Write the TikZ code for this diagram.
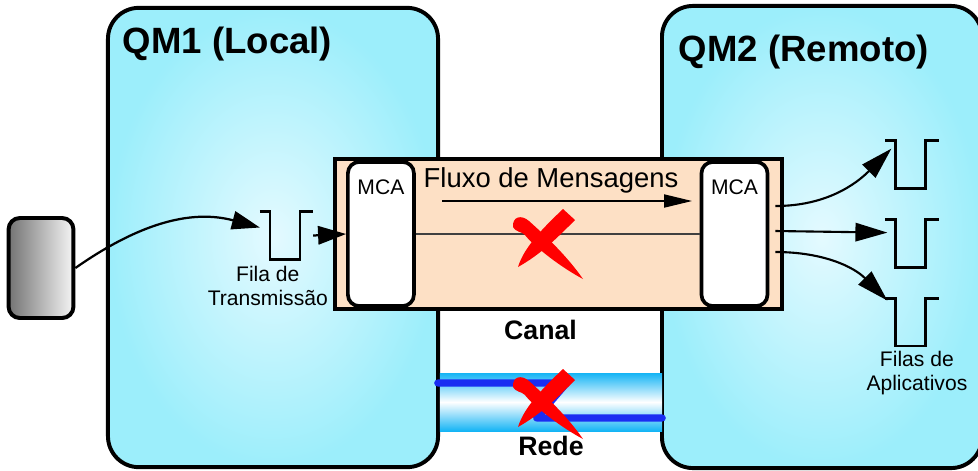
\documentclass[tikz,border=0pt]{standalone}
\usepackage{fontspec}
\setmainfont{Liberation Sans}
\usetikzlibrary{positioning,arrows.meta,calc}
\definecolor{ciano}{HTML}{9CEEFB}
\definecolor{cianoclaro}{HTML}{E4FAFF}
\definecolor{pessego}{HTML}{FDE0C5}
\definecolor{tubo}{HTML}{14B4F5}
\definecolor{azulrede}{HTML}{1A2DF2}
\definecolor{vermelho}{HTML}{FF0000}

\tikzset{
  xvermelho/.pic={
    \fill[vermelho] (18,-36) -- (30,-25) .. controls (11,-6) and (-4,9) .. (-27,22)
      .. controls (-21,2) and (-1,-18) .. cycle;
    \fill[vermelho] (-32,-18) .. controls (-33,-28) and (-24,-31) .. (-16,-24)
      .. controls (-5,-14) and (20,8) .. (38,34)
      .. controls (10,19) and (-15,-3) .. (-20,-10)
      .. controls (-24,-14) and (-28,-12) .. cycle;
  }
}

\begin{document}
\begin{tikzpicture}[x=0.025cm, y=-0.025cm, font=\fontsize{15}{17}\selectfont,
    qm/.style={draw, line width=2.8pt, rounded corners=22pt, inner sep=0pt,
               inner color=cianoclaro, outer color=ciano},
    mca/.style={draw, fill=white, line width=2.6pt, rounded corners=8pt, inner sep=0pt,
                minimum width=1.65cm, minimum height=3.6cm},
    fila/.style={inner sep=0pt, minimum width=0.74cm, minimum height=1.18cm},
    seta/.style={-{Triangle[length=7mm,width=4.6mm]}, line width=1.6pt},
    seta2/.style={-{Triangle[length=8mm,width=4.6mm]}, line width=1.5pt},
    titulo/.style={font=\bfseries\fontsize{26}{30}\selectfont, anchor=base west},
    rotulo/.style={font=\bfseries\fontsize{19}{22}\selectfont}]
  \useasboundingbox (0,0) rectangle (978,470);

  % gerenciadores de filas
  \node[qm, minimum width=8.25cm, minimum height=11.48cm] (qm1) at (273,237.5) {};
  \node[qm, minimum width=8cm, minimum height=11.55cm] (qm2) at (822,237) {};
  \node[titulo] (t1) at (118,53) {QM1 (Local)};
  \node[titulo] (t2) at (674,61) {QM2 (Remoto)};

  % rede
  \node[inner sep=0pt, minimum width=5.55cm, minimum height=1.45cm,
        top color=tubo, bottom color=tubo, middle color=white] (rede) at (551,402) {};
  \draw[azulrede, line width=5pt, line cap=round, line join=round]
    ($(rede.west)+(-2,-19)$) -- ++(129,0) -- ++(-30,35) -- ($(rede.east)+(0,16)$);
  \node[rotulo, below=0pt of rede.south] (trede) {Rede};
  \pic at (545,405) {xvermelho};

  % canal
  \node[draw, fill=pessego, line width=2.8pt, inner sep=0pt,
        minimum width=11.18cm, minimum height=3.75cm] (canal) at (558.5,234) {};
  \node[mca, right=0.33cm of canal.west] (mca1) {};
  \node[mca, left=0.37cm of canal.east] (mca2) {};
  \node[below=0.36cm of mca1.north] (tm1) {MCA};
  \node[below=0.36cm of mca2.north] (tm2) {MCA};
  \node[font=\fontsize{19.5}{23}\selectfont] (fluxo) at (551,180) {Fluxo de Mensagens};
  \coordinate (f1) at (442,201);
  \coordinate (f2) at (692,201);
  \draw[-{Triangle[length=7mm,width=3.3mm]}, line width=0.9pt] (f1) -- (f2);
  \draw[line width=0.8pt, black!75] (mca1.east) -- (mca2.west);
  \node[rotulo, below=0.1cm of canal.south, xshift=-0.45cm] (tcanal) {Canal};
  \pic at (545,245) {xvermelho};

  % filas
  \node[fila] (ft) at (285,235.5) {};
  \node[fila] (fa1) at (910.5,164.5) {};
  \node[fila, below=0.78cm of fa1] (fa2) {};
  \node[fila, below=0.78cm of fa2] (fa3) {};
  \foreach \f in {ft,fa1,fa2,fa3}
    \draw[line width=1.6pt] ($(\f.north west)+(-10,0)$) -- (\f.north west) -- (\f.south west)
      -- (\f.south east) -- (\f.north east) -- ++(13,0);
  \node[below=0.05cm of ft.south, xshift=-0.43cm, align=center] (tft) {Fila de\\Transmissão};
  \node[below=0pt of fa3.south, xshift=0.16cm, align=center] (tfa) {Filas de\\Aplicativos};

  % aplicacao
  \node[draw, line width=2.8pt, rounded corners=8pt, inner sep=0pt,
        left color=black!55, right color=black!4,
        minimum width=1.62cm, minimum height=2.5cm] (app) at (41,268) {};

  % conexoes
  \draw[seta] (app.east) to[out=35, in=165] ($(ft.west)+(-10,-8)$);
  \draw[seta] ($(ft.east)+(13,0)$) -- (mca1.west);
  \draw[seta2] ($(mca2.east)+(6,-28)$) to[out=0, in=-135] ($(fa1.north west)+(-4,8)$);
  \draw[seta2] ($(mca2.east)+(6,-3)$) -- ($(fa2.north west)+(-8,13)$);
  \draw[seta2] ($(mca2.east)+(6,18)$) to[out=0, in=135] ($(fa3.north west)+(-8,2)$);
\end{tikzpicture}
\end{document}
